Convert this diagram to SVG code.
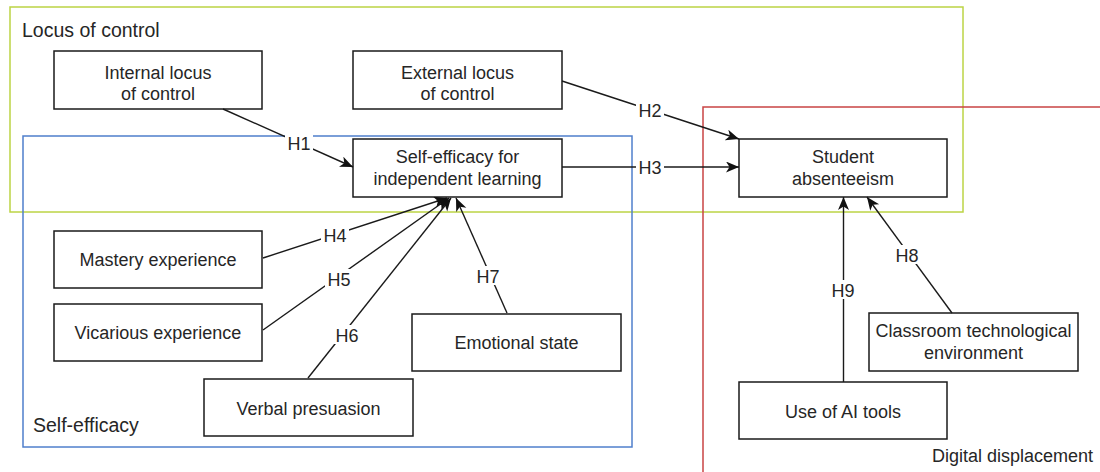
<svg xmlns="http://www.w3.org/2000/svg" width="1100" height="472" viewBox="0 0 1100 472">
<style>
.grp{fill:none;stroke-width:1.5}
.node rect{fill:#fff;stroke:#1a1a1a;stroke-width:1.5}
text{font-family:"Liberation Sans",Arial,sans-serif;fill:#262626}
.nt{font-size:18px;text-anchor:middle}
.gl{font-size:19.5px}
.edge{stroke:#1a1a1a;stroke-width:1.4;fill:none;marker-end:url(#arr)}
.lb{fill:#fff;stroke:none}
.et{font-size:18px;text-anchor:middle}
</style>
<defs>
<marker id="arr" markerUnits="userSpaceOnUse" markerWidth="14" markerHeight="12" refX="13" refY="5.5" orient="auto">
<path d="M0,0 L13,5.5 L0,11 L3.5,5.5 Z" fill="#111"/>
</marker>
</defs>
<rect width="1100" height="472" fill="#fff"/>
<g id="groups">
<g id="locus-of-control"><rect class="grp" x="10" y="7" width="953" height="205" stroke="#bcd444"/><text class="gl" x="22" y="37">Locus of control</text></g>
<g id="self-efficacy"><rect class="grp" x="23" y="136" width="609" height="311" stroke="#4f7fcc"/><text class="gl" x="33" y="432">Self-efficacy</text></g>
<g id="digital-displacement"><rect class="grp" x="703" y="107" width="420" height="400" stroke="#c94444"/><text class="et" style="text-anchor:start" x="932" y="462">Digital displacement</text></g>
</g>
<g id="internal" class="node"><rect x="54" y="51" width="208" height="58"/><text class="nt" x="158" y="78.5">Internal locus</text><text class="nt" x="158" y="99.5">of control</text></g>
<g id="external" class="node"><rect x="353" y="51" width="209" height="58"/><text class="nt" x="457.5" y="78.5">External locus</text><text class="nt" x="457.5" y="99.5">of control</text></g>
<g id="selfeff" class="node"><rect x="353" y="139" width="209" height="58"/><text class="nt" x="457.5" y="163">Self-efficacy for</text><text class="nt" x="457.5" y="185">independent learning</text></g>
<g id="absent" class="node"><rect x="739" y="139" width="208" height="58"/><text class="nt" x="843" y="163">Student</text><text class="nt" x="843" y="185">absenteeism</text></g>
<g id="mastery" class="node"><rect x="54" y="231" width="208" height="57"/><text class="nt" x="158" y="266">Mastery experience</text></g>
<g id="vicarious" class="node"><rect x="54" y="304" width="208" height="57"/><text class="nt" x="158" y="338.5">Vicarious experience</text></g>
<g id="verbal" class="node"><rect x="204" y="379" width="209" height="57"/><text class="nt" x="308.5" y="414.5">Verbal presuasion</text></g>
<g id="emotional" class="node"><rect x="412" y="314" width="209" height="57"/><text class="nt" x="516.5" y="348.5">Emotional state</text></g>
<g id="aitools" class="node"><rect x="739" y="382" width="208" height="57"/><text class="nt" x="843" y="417.5">Use of AI tools</text></g>
<g id="classroom" class="node"><rect x="869" y="313" width="209" height="58"/><text class="nt" x="973.5" y="337">Classroom technological</text><text class="nt" x="973.5" y="359">environment</text></g>
<g id="connectors">
<path class="edge" d="M223,109 L353,167"/>
<rect class="lb" x="285" y="134" width="28" height="19"/><text class="et" x="299" y="150">H1</text>
<path class="edge" d="M562,81 L739,139"/>
<rect class="lb" x="636" y="100" width="28" height="19"/><text class="et" x="650" y="116.5">H2</text>
<path class="edge" d="M562,167 L739,167"/>
<rect class="lb" x="636" y="158" width="28" height="19"/><text class="et" x="650" y="174">H3</text>
<path class="edge" d="M263,258 L447,198"/>
<rect class="lb" x="321" y="225" width="28" height="19"/><text class="et" x="335" y="241.5">H4</text>
<path class="edge" d="M263,330 L449,198"/>
<rect class="lb" x="325" y="269" width="28" height="19"/><text class="et" x="339" y="285.5">H5</text>
<path class="edge" d="M308,378 L451,198"/>
<rect class="lb" x="333" y="325" width="28" height="19"/><text class="et" x="347" y="341.5">H6</text>
<path class="edge" d="M507,313 L456,198"/>
<rect class="lb" x="474" y="266" width="28" height="19"/><text class="et" x="488" y="282.5">H7</text>
<path class="edge" d="M952,313 L867,197"/>
<rect class="lb" x="893" y="245" width="28" height="19"/><text class="et" x="907" y="261.5">H8</text>
<path class="edge" d="M843.5,382 L843.5,197"/>
<rect class="lb" x="829" y="280" width="28" height="19"/><text class="et" x="843" y="296.5">H9</text>
</g>
</svg>
